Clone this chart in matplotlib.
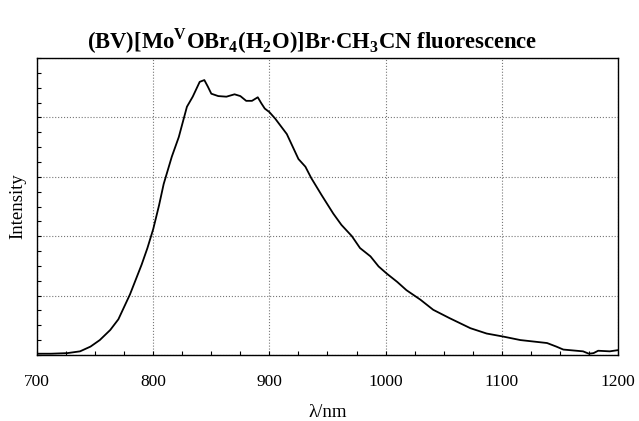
import matplotlib
matplotlib.use("Agg")
import matplotlib.pyplot as plt
from matplotlib.ticker import MultipleLocator, NullFormatter

plt.rcParams["font.family"] = ["Liberation Serif", "DejaVu Serif"]
plt.rcParams["mathtext.fontset"] = "custom"
plt.rcParams["mathtext.rm"] = "Liberation Serif:bold"
plt.rcParams["mathtext.bf"] = "Liberation Serif:bold"

# emission spectrum (intensity in arbitrary grid units)
wavelength = [700, 712, 726, 737, 746, 754, 763, 770, 780, 790, 795, 800, 805, 809, 816, 822,
              829, 834, 840, 844, 847, 850, 856, 863, 870, 875, 880, 885, 890, 893,
              896, 900, 905, 915, 925, 931, 936, 945, 955, 962, 971, 978, 987, 994,
              1001, 1010, 1018, 1030, 1041, 1055, 1073, 1087, 1101, 1116, 1139, 1147,
              1153, 1170, 1175, 1179, 1183, 1193, 1200]
intensity = [0.02, 0.02, 0.03, 0.06, 0.14, 0.25, 0.42, 0.60, 1.02, 1.52, 1.80, 2.12, 2.52, 2.88,
             3.34, 3.67, 4.18, 4.35, 4.60, 4.63, 4.52, 4.40, 4.36, 4.35, 4.39, 4.36, 4.28, 4.28,
             4.34, 4.24, 4.15, 4.09, 3.98, 3.72, 3.30, 3.17, 2.98, 2.69, 2.38, 2.19, 2.00, 1.80,
             1.66, 1.49, 1.37, 1.23, 1.09, 0.93, 0.76, 0.62, 0.45, 0.36, 0.31, 0.25, 0.20, 0.14,
             0.09, 0.06, 0.02, 0.03, 0.07, 0.06, 0.08]

fig = plt.figure(figsize=(6.39, 4.21), dpi=100)
ax = fig.add_axes([0.058, 0.157, 0.909, 0.705])

ax.plot(wavelength, intensity, color="black", linewidth=1.3)

ax.set_xlim(700, 1200)
ax.set_ylim(0, 5)
ax.xaxis.set_major_locator(MultipleLocator(100))
ax.xaxis.set_minor_locator(MultipleLocator(25))
ax.yaxis.set_major_locator(MultipleLocator(1))
ax.yaxis.set_minor_locator(MultipleLocator(0.25))
ax.yaxis.set_major_formatter(NullFormatter())
ax.tick_params(which="both", direction="in", length=3, width=0.8)
ax.tick_params(axis="x", labelsize=12.5, pad=14)
ax.grid(True, which="major", linestyle=":", color="#777777", linewidth=0.8)
for s in ax.spines.values():
    s.set_linewidth(1.0)

ax.set_xlabel("λ/nm", fontsize=13.5, labelpad=10)
ax.set_ylabel("Intensity", fontsize=13.5, labelpad=4)
fig.text(0.488, 0.885,
         r"(BV)[Mo$^{\rm V}$OBr$_{\rm 4}$(H$_{\rm 2}$O)]Br$\cdot$CH$_{\rm 3}$CN fluorescence",
         fontsize=16.3, fontweight="bold", ha="center", va="baseline")

fig.savefig("out.png", dpi=100)
